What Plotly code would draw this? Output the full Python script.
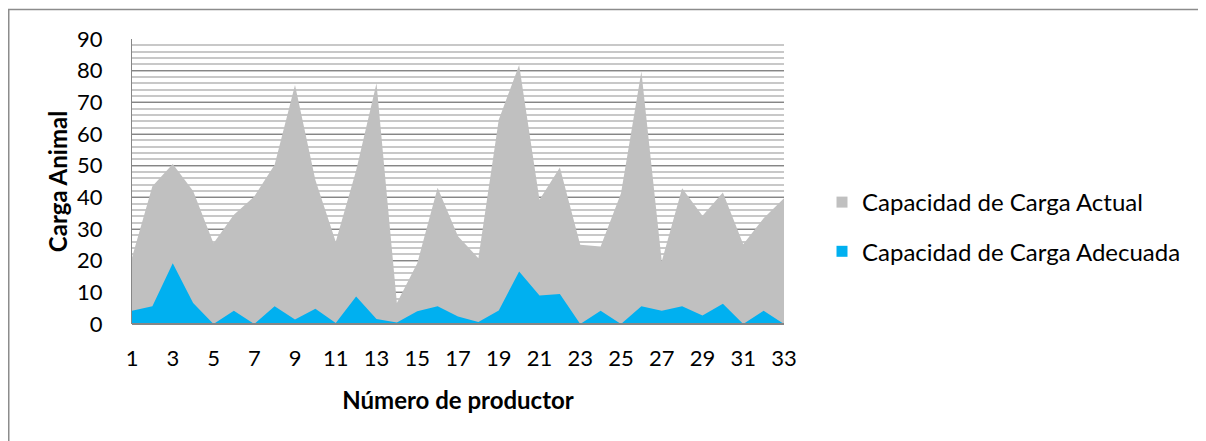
import plotly.graph_objects as go

productores = list(range(1, 34))
capacidad_actual = [21, 43.5, 50.5, 42, 25.5, 34.5, 40.3, 50.3, 75.5, 45.5, 26, 48.5, 76,
                    6.6, 19.2, 43, 27.7, 20.8, 64.5, 81.8, 39.2, 49.4, 25, 24.5, 41.3,
                    79.7, 19.8, 42.9, 34.2, 41.5, 25.2, 33.4, 39.7]
capacidad_adecuada = [4.2, 5.6, 19.2, 6.6, 0, 4.2, 0, 5.6, 1.4, 4.8, 0.3, 8.7, 1.6,
                      0.5, 4, 5.6, 2.4, 0.6, 4.3, 16.6, 9, 9.5, 0, 4.2, 0,
                      5.6, 4.2, 5.6, 2.7, 6.4, 0, 4.2, 0]
x_ticks = list(range(1, 34, 2))
y_ticks = list(range(0, 91, 10))

FONT = "Lato, 'Open Sans', sans-serif"
GRAY = "#C0C0C0"
BLUE = "#00B0F0"

fig = go.Figure()
fig.add_trace(go.Scatter(
    x=productores, y=capacidad_actual, name="Capacidad de Carga Actual",
    mode="lines", fill="tozeroy", fillcolor=GRAY,
    line=dict(width=0, color=GRAY), showlegend=False,
))
fig.add_trace(go.Scatter(
    x=productores, y=capacidad_adecuada, name="Capacidad de Carga Adecuada",
    mode="lines", fill="tozeroy", fillcolor=BLUE,
    line=dict(width=0, color=BLUE), showlegend=False,
))
# legend entries (square swatches)
fig.add_trace(go.Scatter(
    x=[None], y=[None], name="Capacidad de Carga Actual", mode="markers",
    marker=dict(symbol="square", size=11, color=GRAY), legendgroup="a",
))
fig.add_trace(go.Scatter(
    x=[None], y=[None], name="Capacidad de Carga Adecuada", mode="markers",
    marker=dict(symbol="square", size=11, color=BLUE), legendgroup="b",
))

# the page body has an 8px margin; figure coordinates = window - 8
OFF = 8
FW, FH = 1206 - OFF, 441 - OFF
PL, PR, PT, PB = 132 - OFF, 784 - OFF, 39 - OFF, 324 - OFF
L, R, T, B = PL, FW - PR, PT, FH - PB
W, H = PR - PL, PB - PT

fig.update_layout(
    width=FW, height=FH,
    margin=dict(l=L, r=R, t=T, b=B, autoexpand=False),
    paper_bgcolor="white", plot_bgcolor="white",
    font=dict(family=FONT, size=22, color="#000000"),
    showlegend=True,
    legend=dict(x=(822 - OFF - PL) / W, y=(PB - (180 - OFF)) / H, xanchor="left", yanchor="top",
                font=dict(size=24), tracegroupgap=15, traceorder="grouped",
                bgcolor="rgba(0,0,0,0)"),
    xaxis=dict(range=[1, 33], tickmode="array", tickvals=x_ticks,
               ticktext=[str(v) for v in x_ticks],
               showgrid=False, zeroline=False, showline=False,
               ticks="", ticklabelstandoff=19, tickfont=dict(size=22),
               title=dict(text="<b>Número de productor</b>", font=dict(size=24), standoff=22)),
    yaxis=dict(range=[0, 90], tickmode="array", tickvals=y_ticks,
               showgrid=True, gridcolor="#868686", gridwidth=1,
               minor=dict(dtick=2, showgrid=True, gridcolor="#C8C8C8", gridwidth=1.5),
               zeroline=False, showline=True, linecolor="#868686", linewidth=1,
               ticks="", ticklabelstandoff=24, tickfont=dict(size=22),
               title=dict(text="<b>Carga Animal</b>", font=dict(size=24), standoff=2)),
    shapes=[
        dict(type="line", xref="paper", yref="paper", x0=0, x1=1, y0=0, y1=0,
             line=dict(color="#868686", width=2), layer="above"),
        dict(type="rect", xref="paper", yref="paper",
             x0=(0.75 - PL) / W, x1=(FW + 10 - PL) / W,
             y0=(PB - (FH + 10)) / H, y1=(PB - 1.5) / H,
             line=dict(color="#8C8C8C", width=1.5), fillcolor="rgba(0,0,0,0)", layer="above"),
    ],
)

fig.write_html("out.html")
